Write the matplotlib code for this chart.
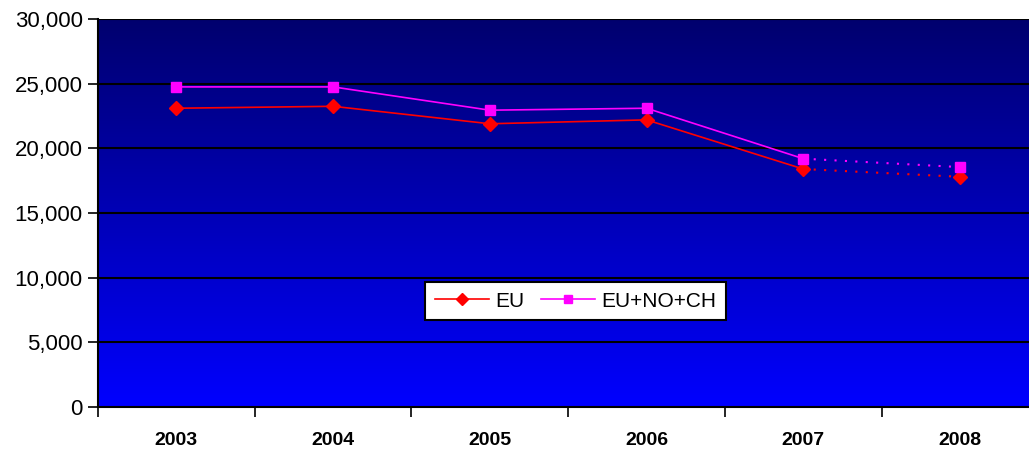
import numpy as np
import matplotlib
matplotlib.use("Agg")
import matplotlib.pyplot as plt
from matplotlib.colors import LinearSegmentedColormap
from matplotlib.ticker import FuncFormatter

years = ["2003", "2004", "2005", "2006", "2007", "2008"]
eu = [23100, 23250, 21900, 22200, 18400, 17800]
eu_no_ch = [24750, 24750, 22950, 23100, 19200, 18550]

plt.rcParams["font.family"] = ["Liberation Sans", "DejaVu Sans"]

fig = plt.figure(figsize=(10.29, 4.55), dpi=100)
ax = fig.add_axes([98 / 1029, 48 / 455, 1 - 98 / 1029, 388 / 455])

# gradient background, dark navy at top to bright blue at bottom
cmap = LinearSegmentedColormap.from_list("bg", ["#0000ff", "#00006e"])
grad = np.linspace(0, 1, 256).reshape(-1, 1)
ax.imshow(grad, aspect="auto", cmap=cmap, origin="lower",
          extent=[-0.5, 5.5, 0, 30000], zorder=0)

x = np.arange(len(years))
for y in range(5000, 30001, 5000):
    ax.axhline(y, color="black", lw=1.5, zorder=1)

# solid part 2003-2007, dotted estimate 2007-2008
ax.plot(x[:5], eu[:5], color="#ff0000", lw=1.2, zorder=3)
ax.plot(x[4:], eu[4:], color="#ff0000", lw=1.5, ls=(0, (1, 4)), zorder=3)
ax.plot(x, eu, ls="none", marker="D", ms=7, color="#ff0000", zorder=4)
ax.plot(x[:5], eu_no_ch[:5], color="#ff00ff", lw=1.2, zorder=3)
ax.plot(x[4:], eu_no_ch[4:], color="#ff00ff", lw=1.5, ls=(0, (1, 4)), zorder=3)
ax.plot(x, eu_no_ch, ls="none", marker="s", ms=7, color="#ff00ff", zorder=4)

# legend handles
h1, = ax.plot([], [], color="#ff0000", marker="D", ms=6, lw=1.2, label="EU")
h2, = ax.plot([], [], color="#ff00ff", marker="s", ms=6, lw=1.2, label="EU+NO+CH")
leg = ax.legend(handles=[h1, h2], loc="center", bbox_to_anchor=(0.513, 0.273),
                ncol=2, fancybox=False, frameon=True, fontsize=15,
                handlelength=2.6, columnspacing=0.8, handletextpad=0.3,
                borderpad=0.45)
leg.get_frame().set_edgecolor("black")
leg.get_frame().set_linewidth(1.5)
leg.get_frame().set_alpha(1)

ax.set_xlim(-0.5, 5.44)
ax.set_ylim(0, 30000)
ax.set_yticks(range(0, 30001, 5000))
ax.yaxis.set_major_formatter(FuncFormatter(lambda v, p: f"{int(v):,}"))
ax.set_xticks(np.arange(-0.5, 5.5, 1))
ax.set_xticklabels([])
ax.set_xticks(x, minor=True)
ax.set_xticklabels(years, minor=True, fontsize=14, fontweight="bold")
ax.tick_params(axis="x", which="minor", length=0, pad=18)
ax.tick_params(axis="x", which="major", length=7, width=1.2, direction="out")
ax.tick_params(axis="y", length=7, width=1.2, labelsize=16, pad=4)

for side in ["top", "right"]:
    ax.spines[side].set_visible(False)
for side in ["left", "bottom"]:
    ax.spines[side].set_linewidth(1.5)

fig.savefig("out.png", dpi=100)
